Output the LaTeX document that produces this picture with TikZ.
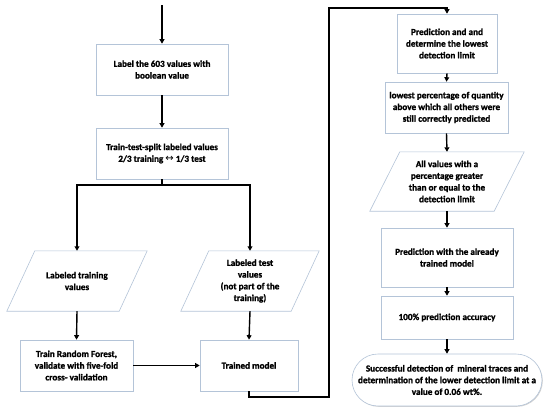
\documentclass[tikz,border=0pt]{standalone}
\usepackage{fontspec}
\setmainfont{Carlito}[BoldFont={Carlito Bold},BoldFeatures={FakeBold=1.3}]
\newfontfamily\symf{DejaVu Sans}
\usetikzlibrary{arrows.meta,calc,shapes.misc,shadows}
\definecolor{boxc}{RGB}{180,196,216}
\begin{document}
\begin{tikzpicture}[x=1pt,y=-1pt,
  font=\fontsize{9.2}{11.7}\selectfont\bfseries,
  box/.style={draw=boxc,line width=0.6pt,fill=white,align=center,inner sep=2pt,
    drop shadow={shadow xshift=0.8pt,shadow yshift=-0.8pt,fill=black!18,opacity=1}},
  paratext/.style={draw=none,align=center,inner sep=0pt},
  paraline/.style={draw=boxc,line width=0.6pt},
  conn/.style={line width=1.4pt,black},
  arr/.style={conn,-{Triangle[length=4.5pt,width=4.8pt]}}]
\useasboundingbox (0,0) rectangle (550,413);

\coordinate (start) at (162,5);
\node[box,minimum width=132pt,minimum height=51pt] (lab) at (162,69.5) {Label the 603 values with\\boolean value};
\node[box,minimum width=132pt,minimum height=51pt] (tt) at (162,153.5) {Train-test-split labeled values\\2/3 training {\symf\fontsize{10}{11.7}\selectfont\mdseries ↔} 1/3 test};

% left parallelogram
\node[paratext,minimum width=112pt,minimum height=60pt] (lt) at (77,281) {};
\draw[paraline,fill=white] ($(lt.north west)+(14,0)$) -- ($(lt.north east)+(14,0)$) -- ($(lt.south east)+(-14,0)$) -- ($(lt.south west)+(-14,0)$) -- cycle;
\node[align=center] at (lt.center) {Labeled training\\values};

% right parallelogram
\node[paratext,minimum width=110pt,minimum height=60pt] (rt) at (250,281) {};
\draw[paraline,fill=white] ($(rt.north west)+(14,0)$) -- ($(rt.north east)+(14,0)$) -- ($(rt.south east)+(-14,0)$) -- ($(rt.south west)+(-14,0)$) -- cycle;
\node[align=center] at (rt.center) {Labeled test\\values\\(not part of the\\training)};

\node[box,minimum width=113pt,minimum height=51pt] (trf) at (76.5,365.5) {Train Random Forest,\\validate with five-fold\\cross- validation};
\node[box,minimum width=98pt,minimum height=51pt] (tm) at (249,365.5) {Trained model};

\node[box,minimum width=100pt,minimum height=59pt] (p1) at (447,43.5) {Prediction and and\\determine the lowest\\detection limit};
\node[box,minimum width=123pt,minimum height=51pt] (p2) at (446.5,107.5) {lowest percentage of quantity\\above which all others were\\still correctly predicted};

% third parallelogram
\node[paratext,minimum width=124pt,minimum height=59pt] (p3) at (447,181.5) {};
\draw[paraline,fill=white] ($(p3.north west)+(15,0)$) -- ($(p3.north east)+(15,0)$) -- ($(p3.south east)+(-15,0)$) -- ($(p3.south west)+(-15,0)$) -- cycle;
\node[align=center] at (p3.center) {All values with a\\percentage greater\\than or equal to the\\detection limit};

\node[box,minimum width=132pt,minimum height=59pt] (p4) at (447,257.5) {Prediction with the already\\trained model};
\node[box,minimum width=132pt,minimum height=43pt] (p5) at (447,317.5) {100\% prediction accuracy};
\node[box,rounded rectangle,minimum width=190pt,minimum height=52pt,inner sep=0pt] (term) at (447,380) {Successful detection of\ \ mineral traces and\\determination of the lower detection limit at a\\value of 0.06 wt\%.};

\coordinate (split) at (162,185);
\coordinate (c1) at (329,397);
\coordinate (c2) at (329,8);

\draw[arr] (start) -- (lab.north);
\draw[arr] (lab.south) -- (tt.north);
\draw[conn] (tt.south) -- (split);
\draw[arr] (split) -| (lt.north);
\draw[arr] (split) -| (rt.north);
\draw[arr] (lt.south) -- (trf.north);
\draw[arr] (rt.south) -- (tm.north);
\draw[arr] (trf.east) -- (tm.west);
\draw[arr] (tm.south) |- (c1) -- (c2) -| (p1.north);
\draw[arr] (p1.south) -- (p2.north);
\draw[arr] (p2.south) -- (p3.north);
\draw[arr] (p3.south) -- (p4.north);
\draw[arr] (p4.south) -- (p5.north);
\draw[arr] (p5.south) -- (term.north);
\end{tikzpicture}
\end{document}
